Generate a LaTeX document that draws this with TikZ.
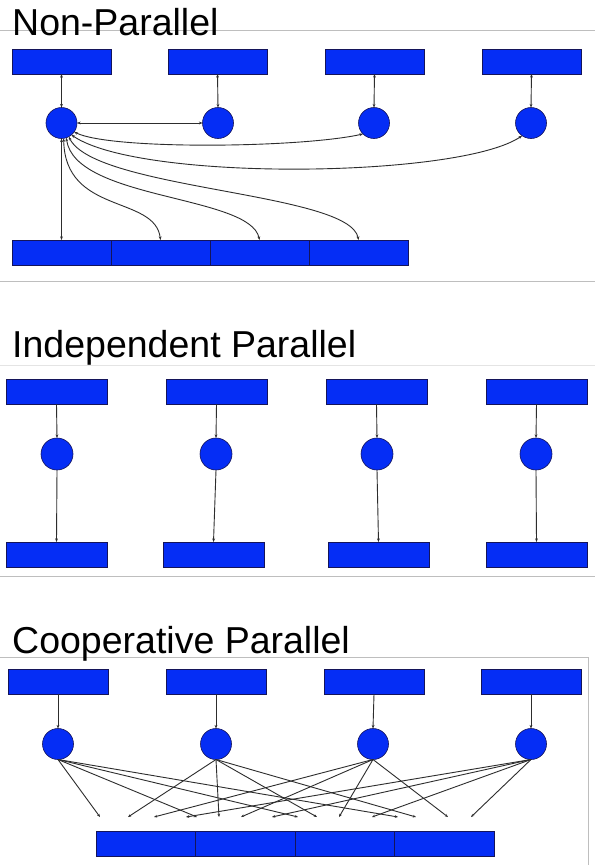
\documentclass[tikz,border=0pt]{standalone}
\usepackage{fontspec}
\setmainfont{Liberation Sans}
\usetikzlibrary{arrows.meta}
\definecolor{boxblue}{RGB}{5,45,245}
\definecolor{boxedge}{RGB}{20,20,90}
\definecolor{rulegray}{RGB}{190,190,190}
\definecolor{faintgray}{RGB}{228,228,228}
\definecolor{wire}{RGB}{45,45,45}
\begin{document}
\begin{tikzpicture}[x=1pt,y=-1pt,
  blk/.style={draw=boxedge, fill=boxblue, line width=0.6pt, minimum width=99pt,
              minimum height=25pt, inner sep=0pt, outer sep=0pt, anchor=north west},
  wideblk/.style={blk, minimum width=101pt},
  proc/.style={circle, draw=boxedge, fill=boxblue, line width=0.6pt,
               minimum size=31pt, inner sep=0pt, outer sep=0pt},
  heading/.style={anchor=base west, inner sep=0pt, font=\fontsize{37.5}{42}\selectfont},
  wirearrow/.style={draw=wire, line width=0.9pt, -{Stealth[length=3.6pt,width=2.8pt]}},
  wirebiarrow/.style={draw=wire, line width=0.9pt,
                      {Stealth[length=3.6pt,width=2.8pt]}-{Stealth[length=3.6pt,width=2.8pt]}},
  fanarrow/.style={draw=wire, line width=0.9pt, -{Stealth[length=3.2pt,width=2.6pt]}},
  rule/.style={draw=rulegray, line width=0.8pt}]
\useasboundingbox (0,0) rectangle (595,865);
\fill[white] (0,0) rectangle (595,865);

% ---------- section rules ----------
\draw[rule] (0,30) -- (595,30);
\draw[rule] (0,281) -- (595,281);
\draw[draw=faintgray, line width=0.8pt] (0,365) -- (595,365);
\draw[rule] (0,576) -- (595,576);
\draw[rule] (0,657) -- (588,657) -- (588,865);

% ---------- headings ----------
\node[heading] (h1) at (12,35) {Non-Parallel};
\node[heading] (h2) at (12,357) {Independent Parallel};
\node[heading] (h3) at (12,653) {Cooperative Parallel};

% ---------- Non-Parallel ----------
\node[blk] (a1) at (12,49) {};
\node[blk] (a2) at (168,49) {};
\node[blk] (a3) at (325,49) {};
\node[blk] (a4) at (482,49) {};
\node[proc] (p1) at (61.5,123) {};
\node[proc] (p2) at (218,123) {};
\node[proc] (p3) at (374,123) {};
\node[proc] (p4) at (531,123) {};
\node[blk] (s1) at (12,240) {};
\node[blk] (s2) at (111,240) {};
\node[blk] (s3) at (210,240) {};
\node[blk] (s4) at (309,240) {};

\draw[wirebiarrow] (a1.south) -- (p1.north);
\draw[wirebiarrow] (a2.south) -- (p2.north);
\draw[wirebiarrow] (a3.south) -- (p3.north);
\draw[wirebiarrow] (a4.south) -- (p4.north);
\draw[wirebiarrow] (p1.east) -- (p2.west);
\draw[wirebiarrow] (p1.-35) .. controls (110,150) and (300,148) .. (p3.-135);
\draw[wirebiarrow] (p1.-50) .. controls (140,182) and (460,178) .. (p4.-125);
\draw[wirebiarrow] (p1.south) -- (s1.north);
\draw[wirebiarrow] (p1.-82) .. controls (65,215) and (155,195) .. (s2.north);
\draw[wirebiarrow] (p1.-72) .. controls (75,200) and (250,195) .. (s3.north);
\draw[wirebiarrow] (p1.-62) .. controls (95,190) and (350,192) .. (s4.north);

% ---------- Independent Parallel ----------
\node[wideblk] (b1) at (6,379) {};
\node[wideblk] (b2) at (166,379) {};
\node[wideblk] (b3) at (326,379) {};
\node[wideblk] (b4) at (486,379) {};
\node[proc, minimum size=32pt] (q1) at (57,454) {};
\node[proc, minimum size=32pt] (q2) at (216,454) {};
\node[proc, minimum size=32pt] (q3) at (377,454) {};
\node[proc, minimum size=32pt] (q4) at (536,454) {};
\node[wideblk] (d1) at (6,542) {};
\node[wideblk] (d2) at (163,542) {};
\node[wideblk] (d3) at (328,542) {};
\node[wideblk] (d4) at (486,542) {};
\foreach \i in {1,...,4} {
  \draw[wirearrow] (b\i.south) -- (q\i.north);
  \draw[wirearrow] (q\i.south) -- (d\i.north);
}

% ---------- Cooperative Parallel ----------
\node[blk, minimum width=100pt] (e1) at (8,669) {};
\node[blk, minimum width=100pt] (e2) at (166,669) {};
\node[blk, minimum width=100pt] (e3) at (324,669) {};
\node[blk, minimum width=100pt] (e4) at (481,669) {};
\node[proc] (r1) at (58,744) {};
\node[proc] (r2) at (216,744) {};
\node[proc] (r3) at (373,744) {};
\node[proc] (r4) at (531,744) {};
\node[blk, minimum width=99.5pt] (t1) at (96,831) {};
\node[blk, minimum width=99.5pt] (t2) at (195.5,831) {};
\node[blk, minimum width=99.5pt] (t3) at (295,831) {};
\node[blk, minimum width=99.5pt] (t4) at (394.5,831) {};
\foreach \i in {1,...,4} {
  \draw[wirearrow] (e\i.south) -- (r\i.north);
}
% free ends of the fan-out, one per processor in each segment
\coordinate (f11) at (100,817); \coordinate (f12) at (197,817);
\coordinate (f13) at (298,817); \coordinate (f14) at (398,817);
\coordinate (f21) at (128,817); \coordinate (f22) at (219,817);
\coordinate (f23) at (317,817); \coordinate (f24) at (416,817);
\coordinate (f31) at (154,817); \coordinate (f32) at (241,817);
\coordinate (f33) at (339,817); \coordinate (f34) at (448,817);
\coordinate (f41) at (186,817); \coordinate (f42) at (272,817);
\coordinate (f43) at (372,817); \coordinate (f44) at (471,817);
\foreach \i in {1,...,4} {
  \foreach \j in {1,...,4} {
    \draw[fanarrow] (r\i.south) -- (f\i\j);
  }
}
\end{tikzpicture}
\end{document}
